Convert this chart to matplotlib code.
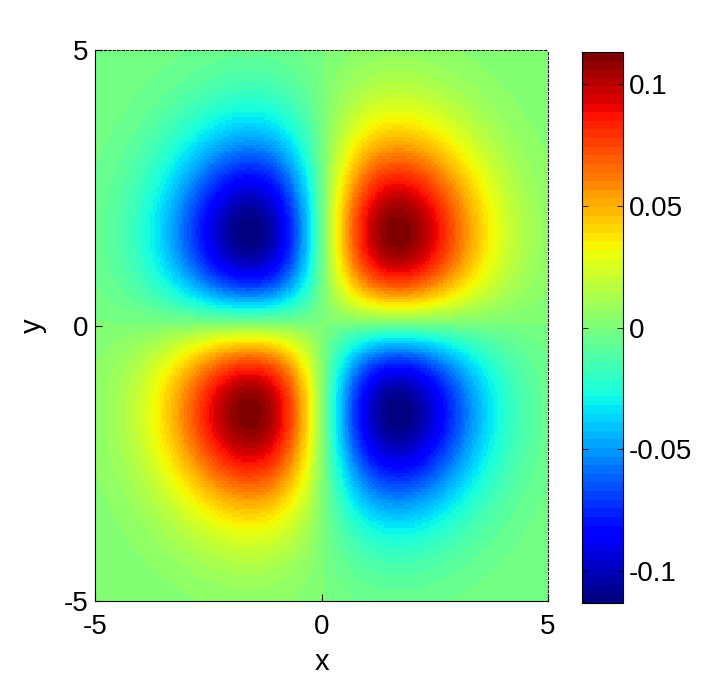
import numpy as np
import matplotlib
matplotlib.use("Agg")
import matplotlib.pyplot as plt
from matplotlib.colors import ListedColormap

plt.rcParams['font.family'] = ['Liberation Sans', 'DejaVu Sans']
plt.rcParams['axes.unicode_minus'] = False

# ---- data ----
x_limits = [-5, 5]
y_limits = [-5, 5]
n_grid = 201
peak_value = 0.113          # value at the lobes' extremes
lobe_width = 5.4            # Gaussian width parameter s in exp(-r^2/s)
centre = [0.05, 0.05]       # slight offset of the pattern centre
color_limits = [-0.113, 0.113]
x_ticks = [-5, 0, 5]
y_ticks = [-5, 0, 5]
cbar_ticks = [-0.1, -0.05, 0, 0.05, 0.1]
cbar_ticklabels = ['-0.1', '-0.05', '0', '0.05', '0.1']

x = np.linspace(x_limits[0], x_limits[1], n_grid)
y = np.linspace(y_limits[0], y_limits[1], n_grid)
X, Y = np.meshgrid(x, y)
Xc, Yc = X - centre[0], Y - centre[1]
amp = peak_value / ((lobe_width / 2) * np.exp(-1))
Z = amp * Xc * Yc * np.exp(-(Xc**2 + Yc**2) / lobe_width)

fig = plt.figure(figsize=(7.25, 6.81), dpi=100)
W, H = 725, 681
ax = fig.add_axes([95 / W, 1 - 601 / H, (548 - 95) / W, (601 - 50) / H])
cax = fig.add_axes([582 / W, 1 - 603 / H, (623 - 582) / W, (603 - 52) / H])

cmap = ListedColormap(plt.get_cmap('jet')(np.linspace(0, 1, 64)))
mesh = ax.pcolormesh(X, Y, Z, cmap=cmap, vmin=color_limits[0], vmax=color_limits[1],
                     shading='nearest', rasterized=True)
ax.set_xlim(x_limits)
ax.set_ylim(y_limits)
ax.set_xticks(x_ticks)
ax.set_yticks(y_ticks)
ax.tick_params(axis='x', direction='in', labelsize=20, length=5, width=0.8, pad=9)
ax.tick_params(axis='y', direction='in', labelsize=20, length=5, width=0.8, pad=5)
ax.set_xlabel('x', fontsize=21, labelpad=6)
ax.set_ylabel('y', fontsize=21, labelpad=12)
for s in ['top', 'right']:
    ax.spines[s].set_linestyle((0, (2, 2)))
    ax.spines[s].set_linewidth(0.8)
for s in ['left', 'bottom']:
    ax.spines[s].set_linewidth(0.8)

cb = fig.colorbar(mesh, cax=cax)
cb.set_ticks(cbar_ticks)
cb.set_ticklabels(cbar_ticklabels)
cax.tick_params(direction='in', labelsize=20, length=4, width=0.6, left=True, right=True, pad=4)
cb.outline.set_linewidth(0.8)

fig.savefig('out.png', dpi=100)
